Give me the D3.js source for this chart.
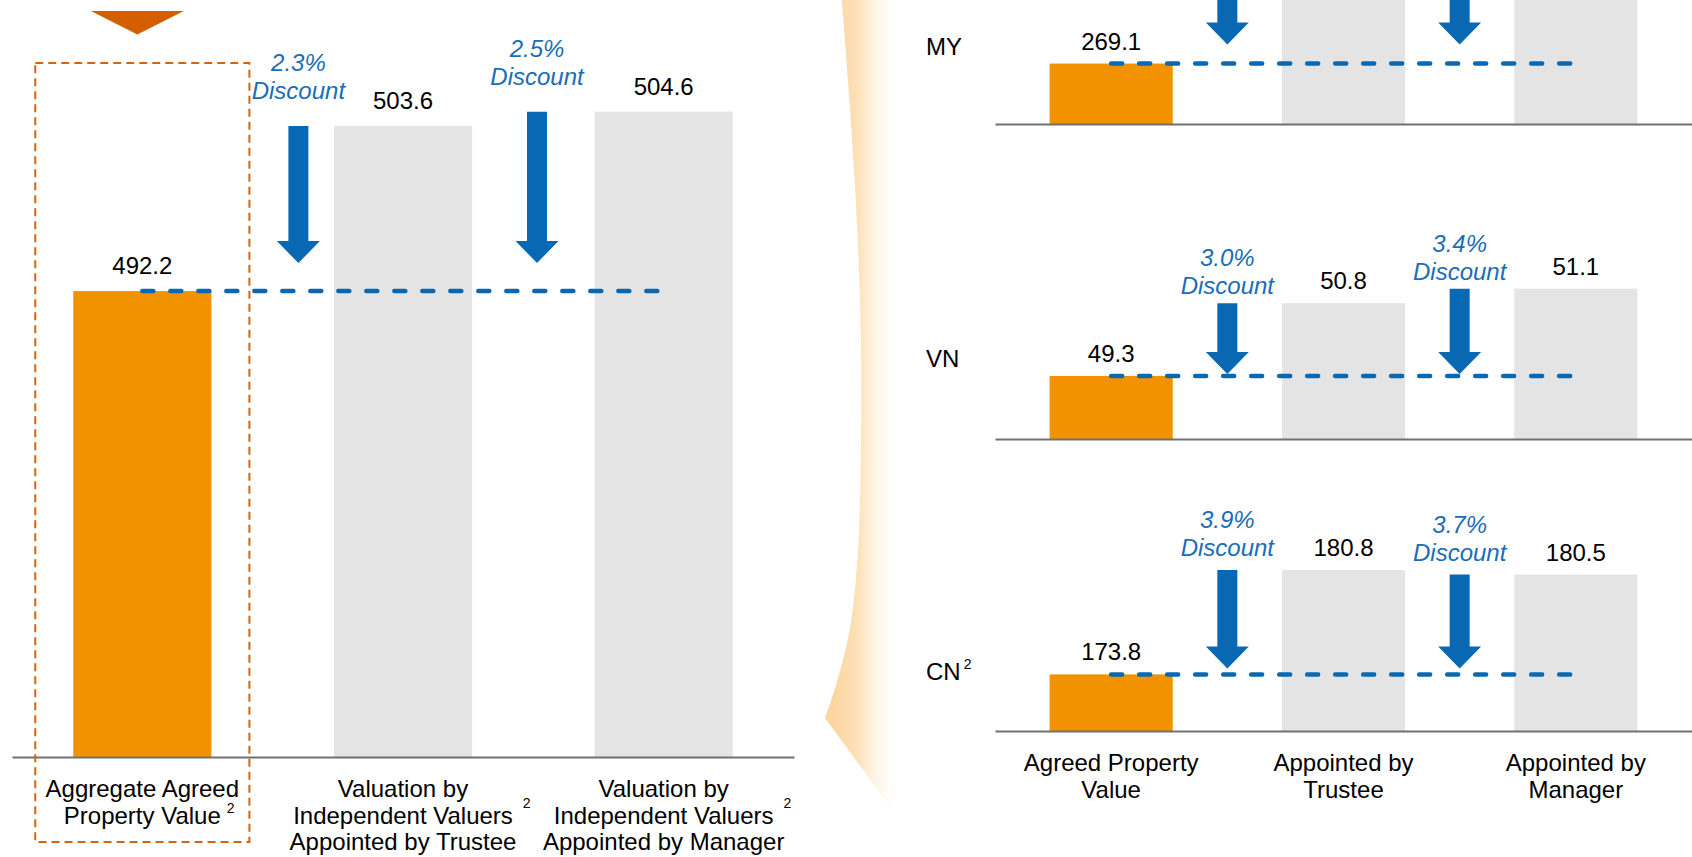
<!DOCTYPE html>
<html>
<head>
<meta charset="utf-8">
<script src="https://cdn.jsdelivr.net/npm/d3@7"></script>
<style>
  body { margin: 0; background: #ffffff; }
  svg { display: block; }
  text { font-family: Arial, "Liberation Sans", sans-serif; }
</style>
</head>
<body>
<svg id="chart" width="1692" height="857"></svg>
<script>
// ---- Aggregate portfolio (S$ million) ----
const totalCategories = ["Agreed", "Trustee", "Manager"];
const totalValues = [492.2, 503.6, 504.6];
const totalDiscounts = ["2.3%", "2.5%"];
const totalLabelLines = [
  ["Aggregate Agreed", "Property Value"],
  ["Valuation by", "Independent Valuers", "Appointed by Trustee"],
  ["Valuation by", "Independent Valuers", "Appointed by Manager"]
];
const totalFootnotes = ["2", "2", "2"];

// ---- Breakdown by country ----
const countries = ["MY", "VN", "CN"];
const countryFootnotes = ["", "", "2"];
const countryCategories = ["Agreed", "Trustee", "Manager"];
const countryLabelLines = [
  ["Agreed Property", "Value"],
  ["Appointed by", "Trustee"],
  ["Appointed by", "Manager"]
];
const myValues = [269.1, 272.0, 273.0];
const vnValues = [49.3, 50.8, 51.1];
const cnValues = [173.8, 180.8, 180.5];
const myDiscounts = ["1.1%", "1.4%"];
const vnDiscounts = ["3.0%", "3.4%"];
const cnDiscounts = ["3.9%", "3.7%"];

// ---- Styling ----
const ORANGE = "#F29200";
const GREY = "#E4E4E4";
const BLUE = "#0868B3";
const BLUE_TEXT = "#1A6DB6";
const AXIS = "#707070";

const svg = d3.select("#chart");
const defs = svg.append("defs");

// Decorative bracket linking the aggregate bar to the country panels
const grad = defs.append("linearGradient")
  .attr("id", "bracketFade")
  .attr("gradientUnits", "userSpaceOnUse")
  .attr("x1", 835).attr("y1", 0).attr("x2", 902).attr("y2", 0);
grad.append("stop").attr("offset", "0%").attr("stop-color", "#FCD6A0").attr("stop-opacity", 1);
grad.append("stop").attr("offset", "35%").attr("stop-color", "#FDE1B9").attr("stop-opacity", 1);
grad.append("stop").attr("offset", "100%").attr("stop-color", "#FFFFFF").attr("stop-opacity", 0);

const bracketLine = d3.line().curve(d3.curveCatmullRom.alpha(0.5));
const bracketEdge = [[841.7, -2], [850, 109], [856.7, 218], [860.7, 328], [861, 437],
                     [858.3, 546], [850, 628], [836.7, 683], [825, 718]];
svg.append("path")
  .attr("d", bracketLine(bracketEdge) + "L900,820L902,820L902,-2Z")
  .attr("fill", "url(#bracketFade)");

// Arrow glyph: shaft from yTop down to a head ending at yTip
function arrowPath(cx, yTop, yTip) {
  const sw = 10, hw = 21.5, hh = 22;
  return `M${cx - sw},${yTop}L${cx + sw},${yTop}L${cx + sw},${yTip - hh}L${cx + hw},${yTip - hh}` +
         `L${cx},${yTip}L${cx - hw},${yTip - hh}L${cx - sw},${yTip - hh}Z`;
}

function drawPanel(cfg) {
  const g = svg.append("g");
  const x = d3.scaleBand()
    .domain(cfg.categories)
    .range(cfg.xRange)
    .paddingInner(0.47)
    .paddingOuter(0.235);
  const y = d3.scaleLinear().domain(cfg.domain).range(cfg.yRange);
  const bw = x.bandwidth();
  const base = y(cfg.domain[0]);
  const cx = c => x(c) + bw / 2;
  const rows = cfg.categories.map((c, i) => ({ c, v: cfg.values[i], i }));

  // Bars
  g.selectAll("rect.bar").data(rows).join("rect")
    .attr("class", "bar")
    .attr("x", d => x(d.c))
    .attr("y", d => y(d.v))
    .attr("width", bw)
    .attr("height", d => base - y(d.v))
    .attr("fill", d => d.i === 0 ? ORANGE : GREY);

  // Baseline
  const axis = g.append("g")
    .attr("transform", `translate(0,${base})`)
    .call(d3.axisBottom(x).tickSize(0).tickSizeOuter(0).tickFormat(""));
  axis.select(".domain").attr("stroke", AXIS).attr("stroke-width", 2.2);

  // Value labels (only those that fall inside the drawing area)
  g.selectAll("text.value").data(rows.filter(d => y(d.v) - cfg.labelGap > 0)).join("text")
    .attr("class", "value")
    .attr("x", d => cx(d.c))
    .attr("y", d => y(d.v) - cfg.labelGap)
    .attr("text-anchor", "middle")
    .attr("font-size", 24)
    .attr("fill", "#000")
    .text(d => d.v.toFixed(1));

  // Reference line at the agreed value
  g.append("line")
    .attr("x1", cx(cfg.categories[0]))
    .attr("x2", cx(cfg.categories[2]) - 3)
    .attr("y1", y(cfg.values[0]))
    .attr("y2", y(cfg.values[0]))
    .attr("stroke", BLUE)
    .attr("stroke-width", 4.5)
    .attr("stroke-linecap", "round")
    .attr("stroke-dasharray", "11 17");

  // Discount arrows and their labels
  [1, 2].forEach((k, j) => {
    const prevEnd = x(cfg.categories[k - 1]) + bw;
    const gap = x(cfg.categories[k]) - prevEnd;
    const ax = prevEnd + gap * cfg.arrowFrac[j];
    const yTop = y(cfg.values[k]);
    const yTip = y(cfg.values[0]) - cfg.tipGap;
    g.append("path").attr("d", arrowPath(ax, yTop, yTip)).attr("fill", BLUE);
    if (yTop - cfg.discountGap > 0) {
      const t = g.append("text")
        .attr("text-anchor", "middle")
        .attr("font-size", 24)
        .attr("font-style", "italic")
        .attr("fill", BLUE_TEXT);
      t.append("tspan").attr("x", ax).attr("y", yTop - cfg.discountGap - 28).text(cfg.discounts[j]);
      t.append("tspan").attr("x", ax).attr("y", yTop - cfg.discountGap).text("Discount");
    }
  });

  // Category labels beneath the baseline
  if (cfg.labelLines) {
    cfg.labelLines.forEach((lines, i) => {
      const c = cfg.categories[i];
      lines.forEach((line, li) => {
        const ty = base + 40 + li * 26.5;
        const t = g.append("text")
          .attr("x", cx(c))
          .attr("y", ty)
          .attr("text-anchor", "middle")
          .attr("font-size", 24)
          .attr("fill", "#000")
          .text(line);
        if (cfg.footnotes && li === 1 && cfg.footnotes[i]) {
          const w = t.node().getComputedTextLength();
          g.append("text")
            .attr("x", cx(c) + w / 2 + cfg.supGap[i])
            .attr("y", ty - cfg.supRaise[i])
            .attr("font-size", 14)
            .attr("fill", "#000")
            .text(cfg.footnotes[i]);
        }
      });
    });
  }
  return { x, y, bw };
}

// ---- Left: aggregate portfolio ----
const left = drawPanel({
  categories: totalCategories,
  values: totalValues,
  discounts: totalDiscounts,
  xRange: [12, 794],
  domain: [460, 510],
  yRange: [757, 33.5],
  labelGap: 17,
  tipGap: 28,
  discountGap: 27,
  arrowFrac: [0.71, 0.53],
  labelLines: totalLabelLines,
  footnotes: totalFootnotes,
  supGap: [6, 10, 10],
  supRaise: [11, 16, 16]
});

// Highlight box and marker around the aggregate agreed value
const hx = left.x(totalCategories[0]);
svg.append("rect")
  .attr("x", hx - 38)
  .attr("y", 63)
  .attr("width", left.bw + 76)
  .attr("height", 779)
  .attr("fill", "none")
  .attr("stroke", "#D4650F")
  .attr("stroke-width", 2)
  .attr("stroke-dasharray", "8 5");
const mx = hx + left.bw / 2 - 5;
svg.append("path")
  .attr("d", `M${mx - 46.5},11L${mx + 46.5},11L${mx},34.5Z`)
  .attr("fill", "#D35F00");

// ---- Right: breakdown by country ----
const countryPanels = [
  { values: myValues, discounts: myDiscounts, domain: [267.15, 274], yRange: [124, 124 - 6.85 * 31],
    tipGap: 19, discountGap: 12, rowLabelY: 54.5 },
  { values: vnValues, discounts: vnDiscounts, domain: [48, 52], yRange: [439, 245],
    tipGap: 2, discountGap: 9, rowLabelY: 366.6 },
  { values: cnValues, discounts: cnDiscounts, domain: [170, 182], yRange: [731, 552.2],
    tipGap: 6, discountGap: 14, rowLabelY: 680 }
];

countryPanels.forEach((p, i) => {
  drawPanel({
    categories: countryCategories,
    values: p.values,
    discounts: p.discounts,
    xRange: [995, 1692],
    domain: p.domain,
    yRange: p.yRange,
    labelGap: 14,
    tipGap: p.tipGap,
    discountGap: p.discountGap,
    arrowFrac: [0.5, 0.5],
    labelLines: i === countries.length - 1 ? countryLabelLines : null
  });
  const t = svg.append("text")
    .attr("x", 926)
    .attr("y", p.rowLabelY)
    .attr("font-size", 24)
    .attr("fill", "#000")
    .text(countries[i]);
  if (countryFootnotes[i]) {
    const w = t.node().getComputedTextLength();
    svg.append("text")
      .attr("x", 926 + w + 3)
      .attr("y", p.rowLabelY - 11)
      .attr("font-size", 14)
      .attr("fill", "#000")
      .text(countryFootnotes[i]);
  }
});
</script>
</body>
</html>
